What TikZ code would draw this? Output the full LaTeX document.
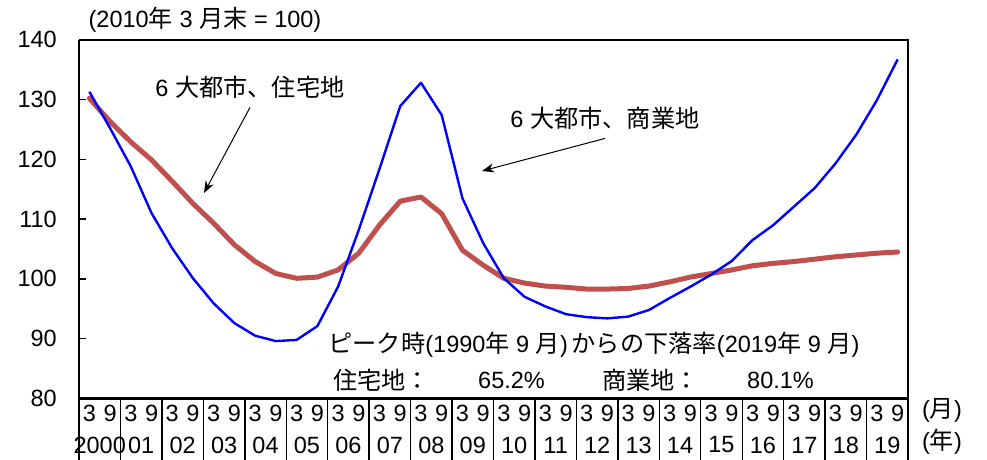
\documentclass[tikz,border=0pt]{standalone}
\usepackage{fontspec}
\setmainfont{Liberation Sans}
\newfontfamily\jp{Noto Sans CJK JP}[Scale=1.03]
\usetikzlibrary{arrows.meta}
\definecolor{resred}{RGB}{192,80,77}
\definecolor{comblue}{RGB}{0,0,255}
\newcommand\lbl{\fontsize{23.5}{26}\selectfont}

\begin{document}
\begin{tikzpicture}[x=1pt,y=-1pt,
    every node/.style={font=\lbl,inner sep=0pt},
    axis/.style={line width=2.6pt},
    frame/.style={line width=1.8pt},
    sep/.style={line width=1.4pt},
    arr/.style={line width=1pt,-{Stealth[length=12pt,width=9pt]}},
    resline/.style={resred,line width=5pt,line join=round,line cap=round},
    comline/.style={comblue,line width=2.4pt,line join=round}]
    %%%%% START %%%%%
    \useasboundingbox[fill=white] (0,0) rectangle (987,460);

    \node (unit) at (205,20) {(2010{\jp 年}\ 3\ {\jp 月末}\ =\ 100)};

    % y labels
    \foreach \v in {80,90,...,140}
        \node[anchor=east] (y\v) at (57,{398.5-(\v-80)*5.98}) {\v};

    \begin{scope}[shift={(79,398.5)},x=41.45pt,y=5.98pt]
        % frame and axes
        \draw[frame] (0,60) -- (20,60) -- (20,0);
        \draw[axis] (0,60) -- (0,-10.28);
        \draw[axis] (0,0) -- (20,0);
        \foreach \v in {10,20,...,50}
            \draw[line width=1.4pt] (0,\v) -- (0.17,\v);

        % year cells
        \foreach \k in {1,...,20}
            \draw[sep] (\k,0) -- (\k,-10.28);
        \foreach \yr [count=\k from 0] in {2000,01,02,03,04,05,06,07,08,09,10,11,12,13,14,15,16,17,18,19} {
            \node (mar\k) at (\k+0.25,-2.42) {3};
            \node (sep\k) at (\k+0.75,-2.42) {9};
            \node (yr\k) at (\k+0.5,-7.78) {\yr};
        }

        % data, March and September
        \foreach \v [count=\i from 0] in {130.2,126.3,122.9,119.9,116.3,112.6,109.3,105.7,102.9,100.9,100.1,100.3,101.5,104.3,109.0,113.0,113.7,110.9,104.8,102.3,100.1,99.3,98.8,98.6,98.3,98.3,98.4,98.8,99.5,100.3,100.9,101.5,102.2,102.6,102.9,103.3,103.7,104.0,104.3,104.5}
            \coordinate (r\i) at (\i*0.5+0.25,\v-80);
        \foreach \v [count=\i from 0] in {131.3,125.2,118.8,111.0,105.1,100.1,95.9,92.6,90.5,89.6,89.8,92.1,98.7,108.2,118.4,128.9,132.8,127.4,113.5,106.0,100.1,97.0,95.4,94.1,93.6,93.4,93.7,94.8,96.8,98.7,100.7,103.0,106.5,109.0,112.1,115.2,119.3,124.1,129.9,136.7}
            \coordinate (c\i) at (\i*0.5+0.25,\v-80);

        \draw[resline] (r0) \foreach \i in {1,...,39} {-- (r\i)};
        \draw[comline] (c0) \foreach \i in {1,...,39} {-- (c\i)};
    \end{scope}

    \node (mon) at (942,410) {({\jp 月})};
    \node (year) at (942,442) {({\jp 年})};

    % labels with arrows
    \node (reslbl) at (250,87) {6 {\jp 大都市、住宅地}};
    \coordinate (restip) at (204,193);
    \draw[arr] ([yshift=-9pt]reslbl.south) -- (restip);

    \node (comlbl) at (605,118) {6 {\jp 大都市、商業地}};
    \coordinate (comtip) at (482,171);
    \draw[arr] ([yshift=-9pt]comlbl.south) -- (comtip);

    % fall from peak
    \node (peak) at (594,345) {{\jp ピーク時}(1990{\jp 年}\ 9\ {\jp 月})\,{\jp からの下落率}(2019{\jp 年}\ 9\ {\jp 月})};
    \node[anchor=west] (resk) at (333,380) {{\jp 住宅地：}};
    \node[anchor=west] (resv) at (478,380) {65.2\%};
    \node[anchor=west] (comk) at (602,380) {{\jp 商業地：}};
    \node[anchor=west] (comv) at (747,380) {80.1\%};

    %%%%% END %%%%%
\end{tikzpicture}
\end{document}
